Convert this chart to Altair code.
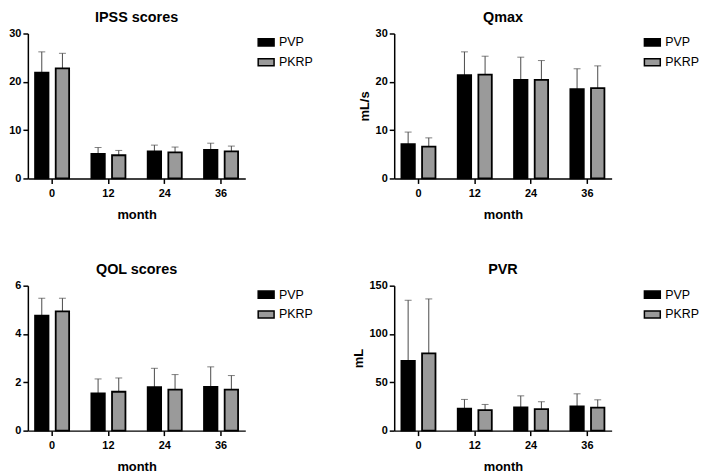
import altair as alt
import pandas as pd

months = ["0", "12", "24", "36"]
groups = ["PVP", "PKRP"]

# IPSS scores
ipss_pvp_mean = [21.9, 5.1, 5.6, 5.9]
ipss_pvp_upper = [26.2, 6.4, 6.9, 7.3]
ipss_pkrp_mean = [22.8, 4.8, 5.4, 5.6]
ipss_pkrp_upper = [25.9, 5.8, 6.5, 6.7]

# Qmax
qmax_pvp_mean = [7.1, 21.4, 20.4, 18.5]
qmax_pvp_upper = [9.6, 26.2, 25.1, 22.7]
qmax_pkrp_mean = [6.6, 21.5, 20.4, 18.7]
qmax_pkrp_upper = [8.4, 25.3, 24.4, 23.3]

# QOL scores
qol_pvp_mean = [4.76, 1.54, 1.80, 1.81]
qol_pvp_upper = [5.48, 2.14, 2.58, 2.64]
qol_pkrp_mean = [4.94, 1.61, 1.70, 1.70]
qol_pkrp_upper = [5.48, 2.18, 2.32, 2.28]

# PVR
pvr_pvp_mean = [72.1, 22.7, 24.0, 25.1]
pvr_pvp_upper = [134.9, 32.3, 36.0, 38.1]
pvr_pkrp_mean = [80.0, 21.3, 22.3, 23.7]
pvr_pkrp_upper = [136.3, 27.1, 29.9, 31.9]

FONT = "Liberation Sans"


def panel(title, ytitle, ymax, yticks, pvp_mean, pvp_upper, pkrp_mean, pkrp_upper, legend_offset):
    rows = []
    for i, m in enumerate(months):
        rows.append({"month": m, "group": "PVP", "mean": pvp_mean[i], "upper": pvp_upper[i]})
        rows.append({"month": m, "group": "PKRP", "mean": pkrp_mean[i], "upper": pkrp_upper[i]})
    df = pd.DataFrame(rows)
    base = alt.Chart(df)
    x = alt.X(
        "month:N",
        sort=months,
        scale=alt.Scale(paddingInner=0.395, paddingOuter=0.128),
        axis=alt.Axis(title="month", labelAngle=0, labelPadding=4, titlePadding=10),
    )
    xo = alt.XOffset("group:N", sort=groups, scale=alt.Scale(paddingInner=0.35, paddingOuter=0))
    yaxis = alt.Axis(values=yticks, title=ytitle if ytitle else None, titlePadding=4)
    y = alt.Y("mean:Q", scale=alt.Scale(domain=[0, ymax], nice=False), axis=yaxis)
    color = alt.Color(
        "group:N",
        sort=groups,
        scale=alt.Scale(domain=groups, range=["#000000", "#9a9a9a"]),
        legend=alt.Legend(
            title=None,
            orient="right",
            offset=legend_offset,
            symbolType="M-1,-0.45H1V0.45H-1Z",
            symbolSize=256,
            symbolStrokeColor="black",
            symbolStrokeWidth=1.5,
            symbolOpacity=1,
            labelFontSize=12.5,
            labelFont=FONT,
            labelColor="black",
            rowPadding=4,
            padding=0,
        ),
    )
    rule = base.mark_rule(color="#4a4a4a", strokeWidth=1).encode(x=x, xOffset=xo, y=y, y2="upper:Q")
    cap = base.mark_tick(orient="horizontal", size=7, thickness=1, color="#4a4a4a").encode(
        x=x, xOffset=xo, y=alt.Y("upper:Q")
    )
    bars = base.mark_bar(stroke="black", strokeWidth=1.8, opacity=1).encode(x=x, xOffset=xo, y=y, color=color)
    return alt.layer(rule, cap, bars).properties(
        width=219, height=146, title=alt.TitleParams(title, anchor="middle", offset=2)
    )


p1 = panel("IPSS scores", None, 30, [0, 10, 20, 30], ipss_pvp_mean, ipss_pvp_upper, ipss_pkrp_mean, ipss_pkrp_upper, 12)
p2 = panel("Qmax", "mL/s", 30, [0, 10, 20, 30], qmax_pvp_mean, qmax_pvp_upper, qmax_pkrp_mean, qmax_pkrp_upper, 32)
p3 = panel("QOL scores", None, 6, [0, 2, 4, 6], qol_pvp_mean, qol_pvp_upper, qol_pkrp_mean, qol_pkrp_upper, 12)
p4 = panel("PVR", "mL", 150, [0, 50, 100, 150], pvr_pvp_mean, pvr_pvp_upper, pvr_pkrp_mean, pvr_pkrp_upper, 32)

chart = (
    alt.concat(p1, p2, p3, p4, columns=2, spacing={"row": 108, "column": 150}, bounds="flush")
    .resolve_scale(color="independent", x="independent", y="independent", xOffset="independent")
    .properties(padding=0)
    .configure_view(stroke=None)
    .configure_axis(
        domainColor="black",
        domainWidth=1.5,
        tickColor="black",
        tickWidth=1.5,
        tickSize=5,
        labelFont=FONT,
        labelFontSize=11,
        labelFontWeight="bold",
        labelColor="black",
        titleFont=FONT,
        titleFontSize=13,
        titleFontWeight="bold",
        titleColor="black",
        grid=False,
    )
    .configure_axisY(labelPadding=2)
    .configure_title(font=FONT, fontSize=14.5, fontWeight="bold", color="black")
)

chart.save("out.html", embed_options={"renderer": "svg", "actions": False})
